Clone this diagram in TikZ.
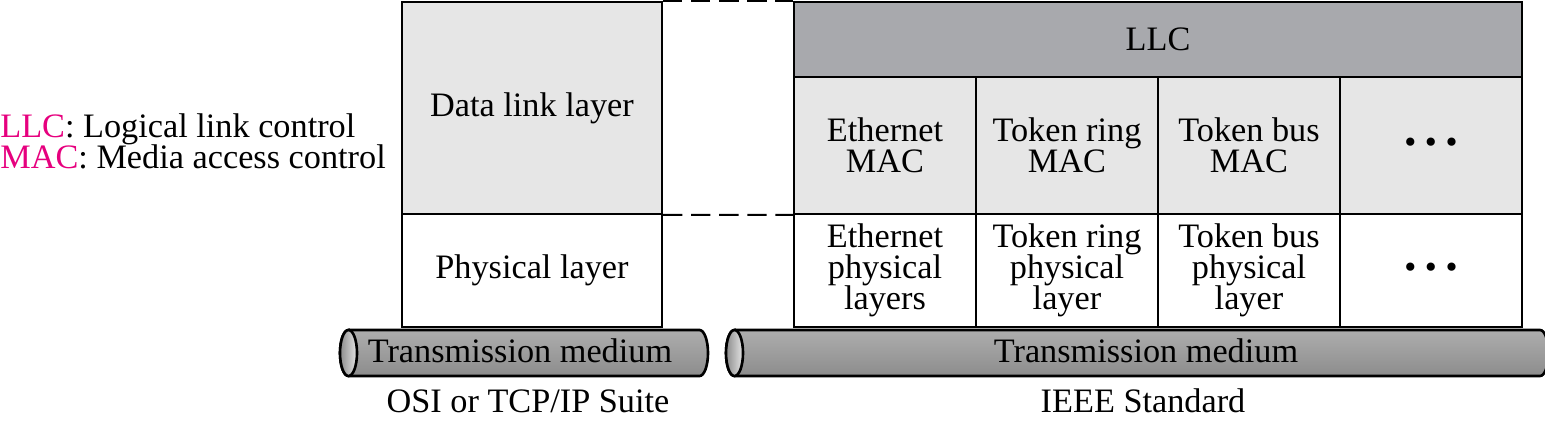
\documentclass[tikz,border=0pt]{standalone}
\usepackage{fontspec}
\setmainfont{Liberation Serif}
\usetikzlibrary{shapes.geometric, positioning, calc}
\definecolor{grayLLC}{RGB}{168,169,173}
\definecolor{grayMAC}{RGB}{230,230,230}
\definecolor{pinkAbbr}{RGB}{230,0,126}
\newcommand{\bigfont}{\fontsize{19.5}{17.8}\selectfont}

\begin{document}
\begin{tikzpicture}[
  lay/.style={draw, line width=1.1pt, font=\bigfont, align=center, anchor=north west, inner sep=0pt},
  layMAC/.style={lay, fill=grayMAC, minimum width=3.64cm, minimum height=2.74cm},
  layPHY/.style={lay, fill=white, minimum width=3.64cm, minimum height=2.26cm},
  tube/.style={draw, line width=1.5pt, top color=black!32, middle color=black!4, bottom color=black!45},
  tubeEnd/.style={draw, line width=1.5pt, left color=black!45, right color=black!10},
  link/.style={line width=1.1pt, dash pattern=on 11pt off 5pt},
  caption/.style={font=\bigfont, inner sep=0pt},
]
  \useasboundingbox (0,0) rectangle (30.9,-8.48);

  % OSI side
  \node[lay, fill=grayMAC, minimum width=5.2cm, minimum height=4.24cm] at (8.02,-0.02) (dll) {Data link layer};
  \node[lay, fill=white, minimum width=5.2cm, minimum height=2.26cm] at (8.02,-4.26) (phy) {Physical layer};

  % IEEE side
  \node[lay, fill=grayLLC, minimum width=14.56cm, minimum height=1.5cm] at (15.86,-0.02) (llc) {LLC};
  \node[layMAC] at (15.86,-1.52) (mac1) {Ethernet\\MAC};
  \node[layMAC] at (19.50,-1.52) (mac2) {Token ring\\MAC};
  \node[layMAC] at (23.14,-1.52) (mac3) {Token bus\\MAC};
  \node[layMAC] at (26.78,-1.52) (mac4) {\textbullet\ \textbullet\ \textbullet};
  \node[layPHY] at (15.86,-4.26) (pl1) {Ethernet\\physical\\layers};
  \node[layPHY] at (19.50,-4.26) (pl2) {Token ring\\physical\\layer};
  \node[layPHY] at (23.14,-4.26) (pl3) {Token bus\\physical\\layer};
  \node[layPHY] at (26.78,-4.26) (pl4) {\textbullet\ \textbullet\ \textbullet};

  \draw[link] (dll.north east) -- (llc.north west);
  \draw[link] (dll.south east) -- (mac1.south west);

  % media (drawn as tubes)
  \shade[tube] (6.97,-6.6) -- (13.99,-6.6) arc[start angle=90, end angle=-90, x radius=0.17, y radius=0.46]
    -- (6.97,-7.52) arc[start angle=270, end angle=90, x radius=0.17, y radius=0.46] -- cycle;
  \shade[tubeEnd] (6.97,-7.06) ellipse [x radius=0.17, y radius=0.46];
  \shade[tube] (14.69,-6.6) -- (30.8,-6.6) arc[start angle=90, end angle=-90, x radius=0.17, y radius=0.46]
    -- (14.69,-7.52) arc[start angle=270, end angle=90, x radius=0.17, y radius=0.46] -- cycle;
  \shade[tubeEnd] (14.69,-7.06) ellipse [x radius=0.17, y radius=0.46];
  \node[caption] at (10.40,-7.02) (medL) {Transmission medium};
  \node[caption] at (22.92,-7.02) (medR) {Transmission medium};

  \node[caption] at (10.56,-8.02) (osi) {OSI or TCP/IP Suite};
  \node[caption] at (22.86,-8.02) (ieee) {IEEE Standard};

  % legend
  \node[caption, anchor=west, align=left] at (0,-2.83) (legend)
    {\textcolor{pinkAbbr}{LLC}: Logical link control\\\textcolor{pinkAbbr}{MAC}: Media access control};
\end{tikzpicture}
\end{document}
